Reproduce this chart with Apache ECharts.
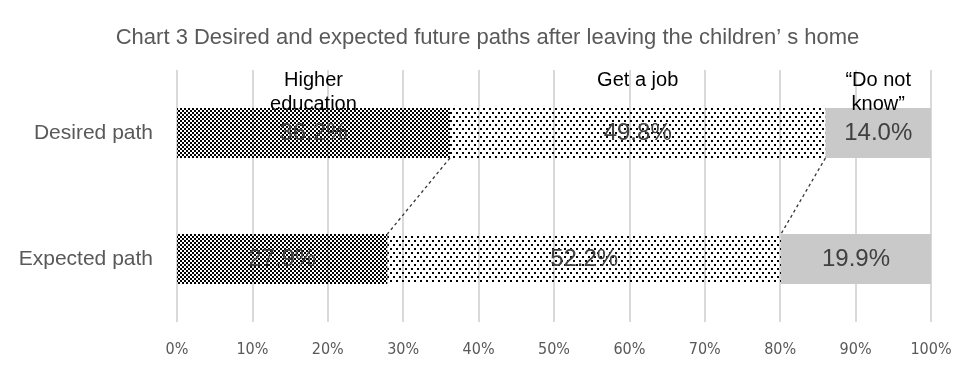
<!DOCTYPE html>
<html>
<head>
<meta charset="utf-8">
<script src="https://cdn.jsdelivr.net/npm/echarts@6/dist/echarts.min.js"></script>
<style>
html,body{margin:0;padding:0;background:#fff;}
#chart{width:975px;height:371px;}
</style>
</head>
<body>
<div id="chart"></div>
<script>
// ---- data ----
var title = 'Chart 3 Desired and expected future paths after leaving the children\u2019 s home';
var categories = ['Desired path', 'Expected path'];
var seriesNames = ['Higher\neducation', 'Get a job', '\u201cDo not\nknow\u201d'];
var higherEducation = [36.2, 27.9];
var getAJob = [49.8, 52.2];
var doNotKnow = [14.0, 19.9];
var xTicks = [0, 10, 20, 30, 40, 50, 60, 70, 80, 90, 100];

// ---- patterns ----
function makePattern(w, h, dots, size) {
  var c = document.createElement('canvas');
  c.width = w; c.height = h;
  var ctx = c.getContext('2d');
  ctx.fillStyle = '#000';
  dots.forEach(function (d) { ctx.fillRect(d[0], d[1], size, size); });
  return c;
}
var darkPat = makePattern(4, 4, [[0, 0], [2, 2]], 2);
var lightPat = makePattern(6, 8, [[0, 0], [3, 4]], 2);

var allSeries = [higherEducation, getAJob, doNotKnow];
var fills = [
  { image: darkPat, repeat: 'repeat' },
  { image: lightPat, repeat: 'repeat' },
  '#c9c9c9'
];
var BAR_W = 50;
var LINE_H = 24;
var FONT = '"Liberation Sans", Arial, sans-serif';

var series = [];
allSeries.forEach(function (vals, i) {
  series.push({
    type: 'bar',
    name: seriesNames[i],
    stack: 'total',
    barWidth: BAR_W,
    yAxisIndex: 0,
    data: vals,
    itemStyle: { color: fills[i] },
    label: {
      show: true,
      position: 'inside',
      fontFamily: FONT,
      fontSize: 24,
      color: '#404040',
      formatter: function (p) { return p.value.toFixed(1) + '%'; }
    },
    z: 2
  });
});
// transparent twin bars to carry the series-name labels above the top bar
allSeries.forEach(function (vals, i) {
  var nLines = seriesNames[i].split('\n').length;
  series.push({
    type: 'bar',
    name: 'lbl' + i,
    stack: 'labels',
    barWidth: BAR_W,
    yAxisIndex: 1,
    data: vals.map(function (v, j) {
      return { value: v, label: { show: j === 0 } };
    }),
    itemStyle: { color: 'rgba(0,0,0,0)' },
    label: {
      position: 'top',
      distance: -8 + LINE_H * (2 - nLines),
      fontFamily: FONT,
      fontSize: 20,
      lineHeight: LINE_H,
      color: '#000',
      formatter: function () { return seriesNames[i]; }
    },
    silent: true,
    z: 5
  });
});

// connecting dashed lines between segment boundaries
function cum(arr, n, j) { var s = 0; for (var k = 0; k <= n; k++) s += arr[k][j]; return s; }
var connectors = [
  [cum(allSeries, 0, 0), cum(allSeries, 0, 1)],
  [cum(allSeries, 1, 0), cum(allSeries, 1, 1)]
];
series.push({
  type: 'custom',
  name: 'connectors',
  silent: true,
  z: 4,
  data: connectors,
  encode: { x: [0, 1] },
  renderItem: function (params, api) {
    var p1 = api.coord([api.value(0), 0]);
    var p2 = api.coord([api.value(1), 1]);
    return {
      type: 'line',
      shape: { x1: p1[0], y1: p1[1] + BAR_W / 2, x2: p2[0], y2: p2[1] - BAR_W / 2 },
      style: { stroke: '#333333', lineWidth: 1.3, lineDash: [3, 3] }
    };
  }
});

var chart = echarts.init(document.getElementById('chart'), null, { renderer: 'canvas' });
chart.setOption({
  animation: false,
  backgroundColor: '#fff',
  title: {
    text: title,
    left: 'center',
    top: 22,
    textStyle: { fontFamily: FONT, fontSize: 22, fontWeight: 'normal', color: '#595959' }
  },
  grid: { left: 177, right: 44, top: 70, bottom: 49, containLabel: false },
  xAxis: {
    type: 'value',
    min: 0, max: 100, interval: 10,
    axisLine: { show: false },
    axisTick: { show: false },
    splitLine: { show: true, lineStyle: { color: '#d9d9d9', width: 2 } },
    axisLabel: {
      margin: 20,
      fontFamily: '"Liberation Sans Narrow", "DejaVu Sans Condensed", sans-serif',
      fontSize: 16,
      color: '#595959',
      formatter: function (v) { return xTicks.indexOf(v) >= 0 ? v + '%' : ''; }
    }
  },
  yAxis: [{
    type: 'category',
    data: categories,
    inverse: true,
    axisLine: { show: false },
    axisTick: { show: false },
    axisLabel: { margin: 24, fontFamily: FONT, fontSize: 21, color: '#595959' }
  }, {
    type: 'category',
    data: categories,
    inverse: true,
    show: false
  }],
  series: series
});
</script>
</body>
</html>
